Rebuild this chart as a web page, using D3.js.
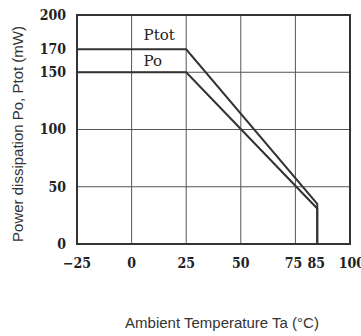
<!DOCTYPE html>
<html><head><meta charset="utf-8">
<script src="https://cdn.jsdelivr.net/npm/d3@7"></script>
<style>body{margin:0;background:#fff}svg{display:block}</style>
</head><body>
<script>
const xTicks = [-25, 0, 25, 50, 75, 85, 100];
const xTickLabels = ["\u221225", "0", "25", "50", "75", "85", "100"];
const xGrid = [0, 25, 50, 75];
const yTicks = [0, 50, 100, 150, 170, 200];
const yGrid = [50, 100, 150];
const ptotX = [-25, 25, 85, 85];
const ptotY = [170, 170, 35, 0];
const poX = [-25, 25, 85, 85];
const poY = [150, 150, 31, 0];
const seriesNames = ["Ptot", "Po"];

const W = 361, H = 336;
const svg = d3.select("body").append("svg").attr("width", W).attr("height", H);
const x = d3.scaleLinear().domain([-25, 100]).range([77, 350]);
const y = d3.scaleLinear().domain([0, 200]).range([244, 15]);

// grid
svg.append("g").selectAll("line").data(xGrid).join("line")
  .attr("x1", d => x(d)).attr("x2", d => x(d)).attr("y1", y(200)).attr("y2", y(0))
  .attr("stroke", "#555").attr("stroke-width", 1);
svg.append("g").selectAll("line").data(yGrid).join("line")
  .attr("x1", x(-25)).attr("x2", x(100)).attr("y1", d => y(d)).attr("y2", d => y(d))
  .attr("stroke", "#555").attr("stroke-width", 1);

// frame
svg.append("rect").attr("x", x(-25)).attr("y", y(200))
  .attr("width", x(100) - x(-25)).attr("height", y(0) - y(200))
  .attr("fill", "none").attr("stroke", "#333").attr("stroke-width", 2);

// series
const line = d3.line().x(d => x(d[0])).y(d => y(d[1]));
[[ptotX, ptotY], [poX, poY]].forEach(([xs, ys]) => {
  svg.append("path").datum(xs.map((v, i) => [v, ys[i]]))
    .attr("d", line).attr("fill", "none").attr("stroke", "#333").attr("stroke-width", 2);
});

// series labels
svg.append("text").attr("x", x(0) + 12).attr("y", y(170) - 9)
  .attr("font-family", "DejaVu Serif").attr("font-size", 15).attr("fill", "#222").text(seriesNames[0]);
svg.append("text").attr("x", x(0) + 12).attr("y", y(150) - 6)
  .attr("font-family", "DejaVu Serif").attr("font-size", 15).attr("fill", "#222").text(seriesNames[1]);

// y tick labels
svg.append("g").selectAll("text").data(yTicks).join("text")
  .attr("x", 66).attr("y", d => y(d)).attr("dy", "0.35em").attr("text-anchor", "end")
  .attr("font-family", "DejaVu Serif Condensed").attr("font-weight", "bold").attr("font-size", 14)
  .attr("fill", "#222").text(d => d);

// x tick labels
svg.append("g").selectAll("text").data(xTicks).join("text")
  .attr("x", (d, i) => x(d) + (d === 75 ? -2 : d === 85 ? -1 : d === 100 ? 2 : 0))
  .attr("y", 263).attr("dy", "0.35em").attr("text-anchor", "middle")
  .attr("font-family", "DejaVu Serif Condensed").attr("font-weight", "bold").attr("font-size", 14)
  .attr("fill", "#222").text((d, i) => xTickLabels[i]);

// axis titles
svg.append("text").attr("transform", "translate(18,134) rotate(-90)")
  .attr("text-anchor", "middle").attr("dy", "0.35em")
  .attr("font-family", "Liberation Sans").attr("font-size", 15).attr("fill", "#333")
  .text("Power dissipation Po, Ptot (mW)");
svg.append("text").attr("x", 222).attr("y", 323).attr("dy", "0.35em").attr("text-anchor", "middle")
  .attr("font-family", "Liberation Sans").attr("font-size", 15).attr("fill", "#333")
  .text("Ambient Temperature Ta (°C)");
</script>
</body></html>
